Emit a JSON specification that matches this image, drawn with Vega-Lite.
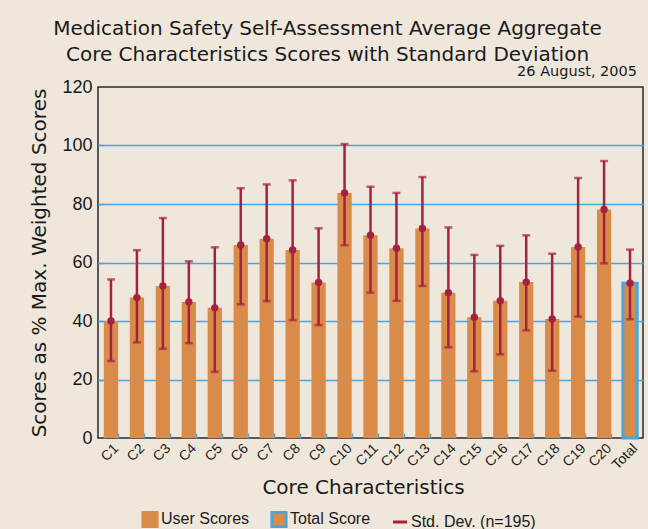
{
  "$schema": "https://vega.github.io/schema/vega-lite/v6.json",
  "autosize": {"type": "none"},
  "padding": {"left": 98, "top": 87, "right": 5, "bottom": 91},
  "width": 545,
  "height": 351,
  "background": "#efe7dc",
  "title": {
    "text": ["Medication Safety Self-Assessment Average Aggregate", "Core Characteristics Scores with Standard Deviation"],
    "anchor": "middle",
    "frame": "group",
    "dx": -43,
    "offset": -1,
    "fontSize": 20,
    "lineHeight": 26,
    "font": "DejaVu Sans",
    "fontWeight": "normal",
    "color": "#1a1a1a"
  },
  "config": {
    "view": {"stroke": "#2a2a2a", "strokeWidth": 1.5, "fill": "#efe7dc"},
    "font": "Liberation Sans",
    "axis": {"labelColor": "#1a1a1a", "titleColor": "#1a1a1a", "titleFontWeight": "normal", "titleFont": "DejaVu Sans"},
    "legend": {
      "orient": "none",
      "direction": "horizontal",
      "legendX": 43,
      "legendY": 423,
      "labelFontSize": 16,
      "labelColor": "#1a1a1a",
      "labelOffset": 2,
      "symbolSize": 200,
      "symbolStrokeWidth": 3,
      "symbolOpacity": 1,
      "columnPadding": 15
    }
  },
  "data": {
    "values": [
      {"c": "C1", "mean": 40.0, "lo": 26.3, "hi": 54.2, "type": "User Scores"},
      {"c": "C2", "mean": 48.0, "lo": 32.7, "hi": 64.2, "type": "User Scores"},
      {"c": "C3", "mean": 52.0, "lo": 30.5, "hi": 75.2, "type": "User Scores"},
      {"c": "C4", "mean": 46.5, "lo": 32.4, "hi": 60.4, "type": "User Scores"},
      {"c": "C5", "mean": 44.5, "lo": 22.6, "hi": 65.2, "type": "User Scores"},
      {"c": "C6", "mean": 66.0, "lo": 45.7, "hi": 85.4, "type": "User Scores"},
      {"c": "C7", "mean": 68.1, "lo": 46.8, "hi": 86.7, "type": "User Scores"},
      {"c": "C8", "mean": 64.3, "lo": 40.3, "hi": 88.1, "type": "User Scores"},
      {"c": "C9", "mean": 53.2, "lo": 38.6, "hi": 71.7, "type": "User Scores"},
      {"c": "C10", "mean": 83.8, "lo": 65.9, "hi": 100.5, "type": "User Scores"},
      {"c": "C11", "mean": 69.3, "lo": 49.7, "hi": 85.9, "type": "User Scores"},
      {"c": "C12", "mean": 64.9, "lo": 46.9, "hi": 83.8, "type": "User Scores"},
      {"c": "C13", "mean": 71.6, "lo": 52.0, "hi": 89.2, "type": "User Scores"},
      {"c": "C14", "mean": 49.7, "lo": 31.0, "hi": 72.0, "type": "User Scores"},
      {"c": "C15", "mean": 41.3, "lo": 22.8, "hi": 62.6, "type": "User Scores"},
      {"c": "C16", "mean": 46.9, "lo": 28.6, "hi": 65.7, "type": "User Scores"},
      {"c": "C17", "mean": 53.3, "lo": 36.8, "hi": 69.3, "type": "User Scores"},
      {"c": "C18", "mean": 40.7, "lo": 23.0, "hi": 63.0, "type": "User Scores"},
      {"c": "C19", "mean": 65.3, "lo": 41.5, "hi": 88.9, "type": "User Scores"},
      {"c": "C20", "mean": 78.1, "lo": 59.7, "hi": 94.7, "type": "User Scores"},
      {"c": "Total", "mean": 52.9, "lo": 40.6, "hi": 64.4, "type": "Total Score"}
    ]
  },
  "encoding": {
    "x": {
      "field": "c",
      "type": "nominal",
      "sort": null,
      "scale": {"paddingInner": 0.45, "paddingOuter": 0.225},
      "axis": {
        "title": "Core Characteristics",
        "titleFontSize": 20,
        "titlePadding": 6,
        "titleX": 265,
        "labelAngle": -45,
        "labelFontSize": 14,
        "labelPadding": 8,
        "tickBand": "extent",
        "tickSize": -5,
        "tickColor": "#48a6dc",
        "tickWidth": 1.5,
        "domain": false
      }
    }
  },
  "layer": [
    {
      "mark": {"type": "bar"},
      "encoding": {
        "y": {
          "field": "mean",
          "type": "quantitative",
          "scale": {"domain": [0, 120], "nice": false},
          "axis": {
            "title": "Scores as % Max. Weighted Scores",
            "titleFontSize": 20,
            "titlePadding": 12,
            "values": [0, 10, 20, 30, 40, 50, 60, 70, 80, 90, 100, 110, 120],
            "labelExpr": "datum.value % 20 === 0 ? datum.label : ''",
            "labelFontSize": 18,
            "labelPadding": 12,
            "labelOverlap": false,
            "labelFlush": false,
            "tickSize": -6,
            "tickColor": "#48a6dc",
            "tickWidth": 1.5,
            "tickOpacity": {"condition": {"test": "datum.value > 0 && datum.value < 120", "value": 1}, "value": 0},
            "domain": false,
            "grid": true,
            "gridColor": "#48a6dc",
            "gridWidth": 1.5,
            "gridOpacity": {"condition": {"test": "datum.value % 20 === 0 && datum.value > 0 && datum.value < 120", "value": 1}, "value": 0}
          }
        },
        "fill": {
          "field": "type",
          "type": "nominal",
          "scale": {"domain": ["User Scores", "Total Score", "Std. Dev. (n=195)"], "range": ["#d98c4a", "#d98c4a", "#a6203f"]},
          "legend": {"title": null}
        },
        "stroke": {"condition": {"test": "datum.type === 'Total Score'", "value": "#48a6dc"}, "value": null},
        "strokeWidth": {"condition": {"test": "datum.type === 'Total Score'", "value": 3}, "value": 0}
      }
    },
    {
      "mark": {"type": "rule", "color": "#a6203f", "strokeWidth": 2.5},
      "encoding": {
        "y": {"field": "lo", "type": "quantitative"},
        "y2": {"field": "hi"}
      }
    },
    {
      "mark": {"type": "tick", "color": "#a6203f", "size": 8, "thickness": 2.5, "orient": "horizontal"},
      "encoding": {"y": {"field": "lo", "type": "quantitative"}}
    },
    {
      "mark": {"type": "tick", "color": "#a6203f", "size": 8, "thickness": 2.5, "orient": "horizontal"},
      "encoding": {"y": {"field": "hi", "type": "quantitative"}}
    },
    {
      "mark": {"type": "point", "filled": true, "shape": "circle", "size": 55, "color": "#a6203f", "opacity": 1},
      "encoding": {"y": {"field": "mean", "type": "quantitative"}}
    },
    {
      "data": {"values": []},
      "mark": {"type": "point", "filled": true, "strokeWidth": 3, "opacity": 1},
      "encoding": {
        "x": {"field": "c", "type": "nominal"},
        "y": {"field": "mean", "type": "quantitative"},
        "fill": {"field": "type", "type": "nominal", "legend": {"title": null}},
        "stroke": {
          "field": "type",
          "type": "nominal",
          "scale": {"domain": ["User Scores", "Total Score", "Std. Dev. (n=195)"], "range": ["#d98c4a", "#48a6dc", "#a6203f"]},
          "legend": {"title": null}
        },
        "shape": {
          "field": "type",
          "type": "nominal",
          "scale": {"domain": ["User Scores", "Total Score", "Std. Dev. (n=195)"], "range": ["square", "square", "stroke"]},
          "legend": {"title": null}
        }
      }
    },
    {
      "data": {"values": [{"label": "26 August, 2005", "pos": "Total", "top": 120}]},
      "mark": {"type": "text", "align": "right", "baseline": "alphabetic", "dx": 7, "dy": -11, "fontSize": 14.5, "font": "DejaVu Sans", "color": "#1a1a1a"},
      "encoding": {
        "x": {"field": "pos", "type": "nominal"},
        "y": {"field": "top", "type": "quantitative"},
        "text": {"field": "label"}
      }
    }
  ]
}
